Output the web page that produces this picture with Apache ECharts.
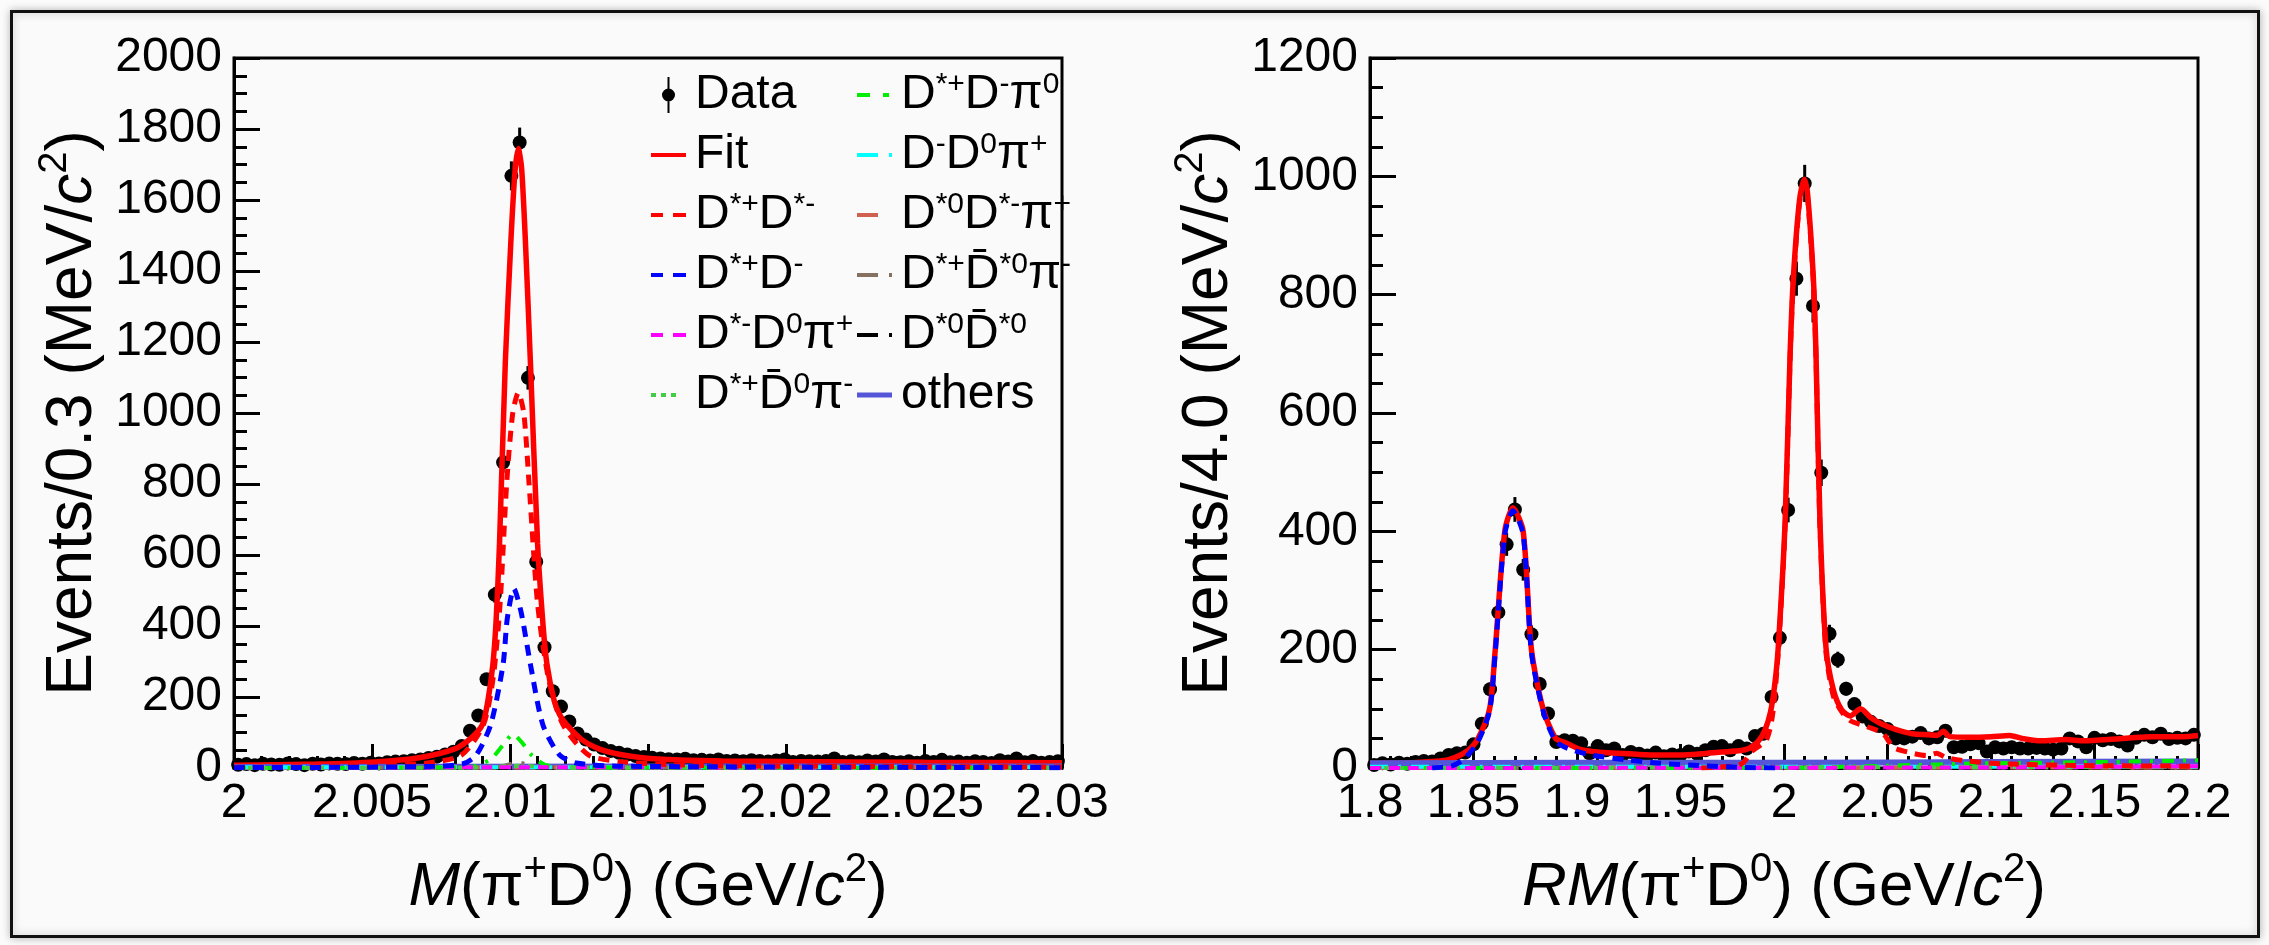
<!DOCTYPE html>
<html><head><meta charset="utf-8">
<script src="https://cdn.jsdelivr.net/npm/echarts@6/dist/echarts.min.js"></script>
<style>html,body{margin:0;padding:0;background:#fbfbfb}#c{width:2269px;height:945px}</style>
</head><body><div id="c"></div>
<script>
// ---------------- DATA ----------------
// Left panel: M(pi+ D0), 100 bins of 0.3 MeV from 2.000 GeV
const leftBinLo = 2.000, leftBinW = 0.0003;
const leftCounts = [
  9, 11, 8, 12, 10, 9, 13, 11, 8, 12,
  10, 13, 12, 11, 14, 12, 15, 13, 16, 18,
  19, 22, 24, 28, 32, 38, 46, 62, 105, 148,
  250, 488, 861, 1668, 1762, 1099, 581, 340, 216, 173,
  131, 97, 80, 66, 56, 48, 43, 38, 34, 31,
  29, 27, 25, 24, 26, 22, 23, 21, 24, 20,
  21, 19, 22, 20, 18, 21, 24, 17, 20, 19,
  18, 20, 27, 17, 19, 16, 21, 18, 24, 17,
  16, 19, 15, 20, 17, 23, 16, 18, 15, 19,
  17, 14, 22, 18, 27, 16, 20, 15, 17, 19
];
const leftFit = [[2.0000,8],[2.0030,11],[2.0051,17],[2.0067,29],[2.0080,54],[2.0086,85],[2.0090,122],[2.0092,190],[2.00938,292],[2.0095,420],[2.00962,632],[2.00983,1142],[2.01003,1481],[2.01018,1680],[2.0103,1745],[2.01042,1690],[2.01056,1481],[2.01074,1142],[2.0110,632],[2.0112,400],[2.01134,292],[2.0116,190],[2.0118,150],[2.01205,122],[2.0126,80],[2.01323,54],[2.0140,38],[2.0148,29],[2.0160,23],[2.0177,20],[2.0200,18],[2.0250,16],[2.0300,15]];
const leftDstDst = [[2.0000,2],[2.0050,6],[2.0070,14],[2.00825,37],[2.00904,122],[2.0094,260],[2.00964,462],[2.00988,802],[2.0101,1000],[2.0103,1057],[2.0105,1000],[2.01069,802],[2.0110,462],[2.0114,250],[2.01192,122],[2.01284,37],[2.0140,18],[2.0160,9],[2.0200,5],[2.0300,3]];
const leftDstD = [[2.0000,1],[2.0070,4],[2.0083,12],[2.00878,37],[2.0093,122],[2.00975,292],[2.0099,420],[2.01014,505],[2.0104,440],[2.01074,292],[2.01119,122],[2.01179,37],[2.0124,14],[2.0140,5],[2.0300,1]];
const leftDstmD0pi = [[2.000,0.5],[2.010,2],[2.030,1]];
const leftDstD0barpi = [[2.000,0],[2.0085,1],[2.0103,6],[2.012,1],[2.030,0]];
const leftDstDpi0 = [[2.0000,0],[2.0085,2],[2.0093,25],[2.0098,70],[2.0101,95],[2.0104,75],[2.0108,35],[2.0113,8],[2.0125,2],[2.0300,0]];
const leftDD0pi = [[2.000,2],[2.030,2]];
const leftDst0Dstpi = [[2.000,1],[2.030,2]];
const leftDstDst0barpi = [[2.000,0],[2.0095,2],[2.0103,15],[2.011,2],[2.030,0]];
const leftDst0Dst0bar = [[2.000,0],[2.030,0.5]];
const leftOthers = [[2.000,3],[2.015,4],[2.030,4]];

// Right panel: RM(pi+ D0), 100 bins of 4 MeV from 1.800 GeV
const rightBinLo = 1.800, rightBinW = 0.004;
const rightCounts = [
  5, 8, 6, 9, 7, 10, 12, 11, 16, 22,
  25, 26, 40, 75, 133, 263, 378, 437, 335, 226,
  142, 92, 44, 47, 46, 42, 25, 37, 30, 33,
  22, 27, 24, 21, 26, 20, 23, 22, 28, 24,
  30, 36, 37, 30, 37, 33, 54, 58, 120, 220,
  436, 827, 988, 781, 499, 227, 183, 134, 108, 87,
  78, 71, 66, 50, 50, 53, 59, 50, 52, 63,
  35, 36, 40, 42, 28, 35, 33, 35, 33, 33,
  34, 33, 31, 33, 50, 45, 35, 51, 47, 49,
  45, 38, 51, 56, 52, 58, 49, 51, 50, 56
];
const rightFit = [[1.800,8],[1.820,9],[1.830,11],[1.838,14],[1.8475,30],[1.8522,50],[1.8578,100],[1.8605,200],[1.8651,400],[1.869,440],[1.874,400],[1.878,200],[1.8836,100],[1.8897,50],[1.895,42],[1.9012,32],[1.910,27],[1.920,25],[1.930,23],[1.940,22],[1.950,22],[1.960,24],[1.970,27],[1.978,29],[1.983,33],[1.9875,45],[1.9908,64],[1.9935,95],[1.9955,140],[1.9972,203],[2.0005,413],[2.0029,694],[2.0045,827],[2.0075,960],[2.0098,995],[2.0113,974],[2.0142,827],[2.0155,694],[2.0174,413],[2.0203,203],[2.0238,133],[2.0279,98],[2.032,88],[2.037,100],[2.042,85],[2.048,73],[2.055,64],[2.062,58],[2.070,56],[2.074,55],[2.077,62],[2.080,53],[2.090,52],[2.100,53],[2.109,55],[2.115,50],[2.124,46],[2.136,48],[2.145,46],[2.160,49],[2.177,53],[2.193,53],[2.200,55]];
const rightDstDst = [[1.960,0],[1.975,3],[1.980,8],[1.9844,28],[1.9914,47],[1.9945,90],[1.9972,195],[2.0005,405],[2.0029,688],[2.0045,820],[2.0075,955],[2.0098,988],[2.0113,968],[2.0142,820],[2.0155,688],[2.0174,405],[2.0203,195],[2.0238,122],[2.0279,95],[2.032,80],[2.040,70],[2.048,58],[2.0528,35],[2.0609,26],[2.069,21],[2.0738,25],[2.078,18],[2.088,12],[2.1056,7],[2.150,4],[2.200,3]];
const rightDstD = [[1.830,0],[1.840,4],[1.8457,16],[1.8522,45],[1.8578,97],[1.8605,195],[1.8651,395],[1.869,435],[1.874,395],[1.878,195],[1.8836,97],[1.8897,45],[1.8957,33],[1.9067,22],[1.9233,14],[1.940,8],[1.960,4],[1.980,1],[2.000,0]];
const rightDstmD0pi = [[1.800,0],[2.100,1],[2.200,3]];
const rightDstD0barpi = [[1.800,0],[2.200,2]];
const rightDstDpi0 = [[1.800,0],[2.000,0],[2.050,4],[2.100,8],[2.150,10],[2.200,13]];
const rightDD0pi = [[1.800,2],[2.200,2]];
const rightDst0Dstpi = [[1.800,0],[2.200,1]];
const rightDstDst0barpi = [[1.800,0],[2.200,1]];
const rightDst0Dst0bar = [[1.800,0],[2.200,0]];
const rightOthers = [[1.800,8],[1.900,9],[2.000,9],[2.100,10],[2.200,11]];

// Legend names (series names) and their rich-text labels
const names = {
  data: 'Data', fit: 'Fit',
  dstdst: 'D*+D*-', dstd: 'D*+D-', dstmd0pi: 'D*-D0pi+', dstd0barpi: 'D*+D0barpi-',
  dstdpi0: 'D*+D-pi0', dd0pi: 'D-D0pi+', dst0dstpi: 'D*0D*-pi+', dstdst0barpi: 'D*+D*0barpi-',
  dst0dst0bar: 'D*0D*0bar', others: 'others'
};
const legendLabels = {
  'Data': 'Data',
  'Fit': 'Fit',
  'D*+D*-': 'D{s|*+}D{s|*-}',
  'D*+D-': 'D{s|*+}D{s|-}',
  'D*-D0pi+': 'D{s|*-}D{s|0}π{s|+}',
  'D*+D0barpi-': 'D{s|*+}D\u0304{s|0}π{s|-}',
  'D*+D-pi0': 'D{s|*+}D{s|-}π{s|0}',
  'D-D0pi+': 'D{s|-}D{s|0}π{s|+}',
  'D*0D*-pi+': 'D{s|*0}D{s|*-}π{s|+}',
  'D*+D*0barpi-': 'D{s|*+}D\u0304{s|*0}π{s|-}',
  'D*0D*0bar': 'D{s|*0}D\u0304{s|*0}',
  'others': 'others'
};

// ---------------- CHART ----------------
const FONT = 'Liberation Sans, Arial, Helvetica, sans-serif';
const chart = echarts.init(document.getElementById('c'), null, {renderer: 'canvas'});

function histRows(lo, w, counts) {
  return counts.map((c, i) => [lo + w * (i + 0.5), c, Math.sqrt(c), w / 2]);
}
function dataSeries(idx, rows) {
  return {
    type: 'custom', name: names.data, xAxisIndex: idx, yAxisIndex: idx, z: 2,
    data: rows, encode: {x: 0, y: 1}, itemStyle: {color: '#000', borderWidth: 0}, animation: false, silent: true,
    renderItem: function (params, api) {
      const x = api.value(0), y = api.value(1), e = api.value(2), hw = api.value(3);
      const p = api.coord([x, y]);
      const t = api.coord([x, y + e]);
      const b = api.coord([x, Math.max(y - e, 0)]);
      const l = api.coord([x - hw, y]);
      const r = api.coord([x + hw, y]);
      return {type: 'group', children: [
        {type: 'line', shape: {x1: p[0], y1: t[1], x2: p[0], y2: b[1]}, style: {stroke: '#000', lineWidth: 3}},
        {type: 'line', shape: {x1: l[0], y1: p[1], x2: r[0], y2: p[1]}, style: {stroke: '#000', lineWidth: 3}},
        {type: 'circle', shape: {cx: p[0], cy: p[1], r: 7}, style: {fill: '#000'}}
      ]};
    }
  };
}
function curve(idx, name, data, color, dash, width, z) {
  return {
    type: 'line', name: name, xAxisIndex: idx, yAxisIndex: idx, data: data,
    symbol: 'none', smooth: 0.25, z: z, silent: true, animation: false,
    lineStyle: {color: color, type: dash, width: width}, itemStyle: {color: color, borderWidth: 0}
  };
}
// colour, dash pattern, width, legend-icon segments (x ranges within a 35px wide icon), icon thickness
const styles = {
  fit: ['#ff0000', 'solid', 5.5, [[0, 35]], 4],
  dstdst: ['#ff0000', [11, 8], 5, [[0, 12], [22, 35]], 4],
  dstd: ['#0000ff', [11, 8], 5, [[0, 12], [22, 35]], 4],
  dstmd0pi: ['#ff00ff', [11, 8], 4, [[0, 12], [22, 35]], 4],
  dstd0barpi: ['#44cc44', [6, 8], 4, [[0, 5], [10, 15], [20, 25]], 4],
  dstdpi0: ['#00ee00', [12, 9, 3, 9], 4, [[0, 13], [26, 32]], 4],
  dd0pi: ['#00ffff', [18, 10, 3, 10], 4, [[0, 21], [32, 35]], 4],
  dst0dstpi: ['#d0604f', [22, 18], 4, [[0, 21]], 4],
  dstdst0barpi: ['#86705f', [20, 10, 3, 10], 4, [[0, 21], [32, 35]], 4],
  dst0dst0bar: ['#000000', [20, 10, 3, 10], 4, [[0, 21], [32, 35]], 4],
  others: ['#5555d8', 'solid', 6, [[0, 35]], 5]
};
function iconPath(segs, th) {
  let p = 'path://M0,0h0.01v0.01h-0.01Z M35,40h-0.01v-0.01h0.01Z';
  const y0 = 20 - th / 2;
  segs.forEach(s => { p += ' M' + s[0] + ',' + y0 + 'h' + (s[1] - s[0]) + 'v' + th + 'h' + (s[0] - s[1]) + 'Z'; });
  return p;
}
const dataIcon = 'path://M0,0h0.01v0.01h-0.01Z M35,40h-0.01v-0.01h0.01Z M16.5,2h2v36h-2Z M17.5,13.5a6.5,6.5 0 1,1 0,13a6.5,6.5 0 1,1 0,-13Z';
const legendIcons = {'Data': dataIcon};
Object.keys(styles).forEach(k => { legendIcons[names[k]] = iconPath(styles[k][3], styles[k][4]); });

function panelSeries(idx, d) {
  const s = [];
  s.push(dataSeries(idx, d.rows));
  const order = ['fit', 'others', 'dst0dst0bar', 'dstdst0barpi', 'dst0dstpi', 'dd0pi', 'dstdpi0', 'dstd0barpi', 'dstmd0pi', 'dstdst', 'dstd'];
  order.forEach((k, j) => {
    const st = styles[k];
    s.push(curve(idx, names[k], d[k], st[0], st[1], st[2], 3 + j));
  });
  return s;
}
const leftPanel = {rows: histRows(leftBinLo, leftBinW, leftCounts), fit: leftFit, dstdst: leftDstDst, dstd: leftDstD,
  dstmd0pi: leftDstmD0pi, dstd0barpi: leftDstD0barpi, dstdpi0: leftDstDpi0, dd0pi: leftDD0pi,
  dst0dstpi: leftDst0Dstpi, dstdst0barpi: leftDstDst0barpi, dst0dst0bar: leftDst0Dst0bar, others: leftOthers};
const rightPanel = {rows: histRows(rightBinLo, rightBinW, rightCounts), fit: rightFit, dstdst: rightDstDst, dstd: rightDstD,
  dstmd0pi: rightDstmD0pi, dstd0barpi: rightDstD0barpi, dstdpi0: rightDstDpi0, dd0pi: rightDD0pi,
  dst0dstpi: rightDst0Dstpi, dstdst0barpi: rightDstDst0barpi, dst0dst0bar: rightDst0Dst0bar, others: rightOthers};

const titleRich = {
  i: {fontStyle: 'italic', fontSize: 62, fontFamily: FONT, color: '#000'},
  s: {fontSize: 40, verticalAlign: 'top', lineHeight: 40, fontFamily: FONT, color: '#000'}
};
function xAxis(idx, min, max, interval, name) {
  return {
    gridIndex: idx, type: 'value', min: min, max: max, interval: interval,
    axisLine: {show: true, onZero: false, lineStyle: {color: '#000', width: 3}},
    axisTick: {show: true, inside: true, length: 24, lineStyle: {color: '#000', width: 3}},
    minorTick: {show: true, splitNumber: 5, length: 12, lineStyle: {color: '#000', width: 3}},
    splitLine: {show: false},
    axisLabel: {fontSize: 48, color: '#000', fontFamily: FONT, margin: 12,
      formatter: v => String(parseFloat(v.toFixed(4)))},
    name: name, nameLocation: 'middle', nameGap: 82,
    nameTextStyle: {fontSize: 62, fontFamily: FONT, color: '#000', lineHeight: 76, rich: titleRich}
  };
}
function yAxis(idx, max, name) {
  return {
    gridIndex: idx, type: 'value', min: 0, max: max, interval: 200,
    axisLine: {show: true, onZero: false, lineStyle: {color: '#000', width: 3}},
    axisTick: {show: true, inside: true, length: 26, lineStyle: {color: '#000', width: 3}},
    minorTick: {show: true, splitNumber: 4, length: 13, lineStyle: {color: '#000', width: 3}},
    splitLine: {show: false},
    axisLabel: {fontSize: 48, color: '#000', fontFamily: FONT, margin: 12, formatter: v => String(Math.round(v))},
    name: name, nameLocation: 'middle', nameRotate: 90, nameGap: 122,
    nameTextStyle: {fontSize: 64, fontFamily: FONT, color: '#000', lineHeight: 76, rich: titleRich}
  };
}
const legendText = {
  fontSize: 48, fontFamily: FONT, color: '#000', lineHeight: 50, padding: [0, 0, 0, 4],
  rich: {s: {fontSize: 30, fontFamily: FONT, color: '#000', verticalAlign: 'top', lineHeight: 22}}
};
function legend(left, items) {
  return {
    orient: 'vertical', left: left, top: 65, itemWidth: 35, itemHeight: 40, itemGap: 10,
    selectedMode: false, textStyle: legendText, itemStyle: {borderWidth: 0},
    formatter: n => legendLabels[n] || n,
    data: items.map(n => ({name: n, icon: legendIcons[n]}))
  };
}

chart.setOption({
  backgroundColor: '#fbfbfb',
  animation: false,
  graphic: [{
    type: 'rect', z: -10, silent: true,
    shape: {x: 11.5, y: 11.5, width: 2247, height: 925},
    style: {fill: '#fafafa', stroke: '#111', lineWidth: 3, shadowBlur: 8, shadowColor: 'rgba(0,0,0,0.25)'}
  }],
  grid: [
    {left: 234, top: 58, width: 828, height: 710, show: true, borderColor: '#000', borderWidth: 3, backgroundColor: 'transparent'},
    {left: 1370, top: 58, width: 828, height: 710, show: true, borderColor: '#000', borderWidth: 3, backgroundColor: 'transparent'}
  ],
  xAxis: [
    xAxis(0, 2.0, 2.03, 0.005, '{i|M}(π{s|+}D{s|0}) (GeV/{i|c}{s|2})'),
    xAxis(1, 1.8, 2.2, 0.05, '{i|RM}(π{s|+}D{s|0}) (GeV/{i|c}{s|2})')
  ],
  yAxis: [
    yAxis(0, 2000, 'Events/0.3 (MeV/{i|c}{s|2})'),
    yAxis(1, 1200, 'Events/4.0 (MeV/{i|c}{s|2})')
  ],
  legend: [
    legend(646, ['Data', 'Fit', 'D*+D*-', 'D*+D-', 'D*-D0pi+', 'D*+D0barpi-']),
    legend(852, ['D*+D-pi0', 'D-D0pi+', 'D*0D*-pi+', 'D*+D*0barpi-', 'D*0D*0bar', 'others'])
  ],
  series: panelSeries(0, leftPanel).concat(panelSeries(1, rightPanel))
});
</script></body></html>
